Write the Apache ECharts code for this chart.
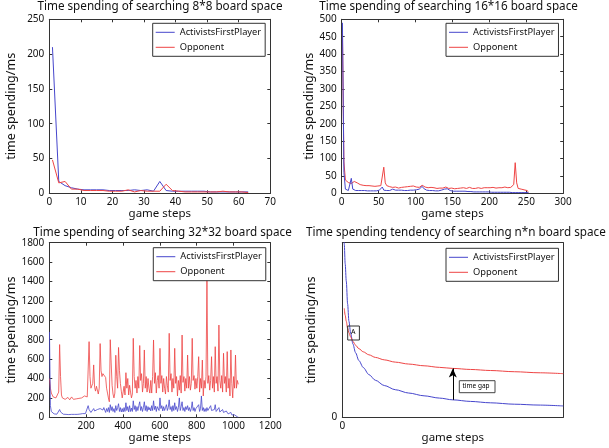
<!DOCTYPE html>
<html><head><meta charset="utf-8">
<script src="https://cdn.jsdelivr.net/npm/echarts@6/dist/echarts.min.js"></script>
<style>html,body{margin:0;padding:0;background:#fff}#c{width:609px;height:448px}</style>
</head><body><div id="c"></div>
<script>
const seriesNames = ['ActivistsFirstPlayer', 'Opponent'];
const titles = [
  'Time spending of searching 8*8 board space',
  'Time spending of searching 16*16 board space',
  'Time spending of searching 32*32 board space',
  'Time spending tendency of searching n*n board space'
];
const xName = 'game steps';
const yName = 'time spending/ms';

// 8*8 board (odd game steps)
const steps8 = [1,3,5,7,9,11,13,15,17,19,21,23,25,27,29,31,33,35,37,39,41,43,45,47,49,51,53,55,57,59,61,63];
const blue8 = [210,17,11,8,6,5,5,5,5,4,4,4,4,5,4,5,3,17,4,3,3,3,3,3,3,2,2,2,2,2,2,2];
const red8  = [48,15,17,6,6,4,4,4,4,3,3,3,5,2,4,3,3,3,13,4,3,2,2,2,2,2,2,3,2,2,2,1];

// 16*16 board (steps 1,3,5,...)
const blue16 = [490,60,12,9,8,9,43,12,8,8, 7,8,7,8,7,8,7,7,8,7, 8,7,8,7,8,9,10,18,9,8,
  8,7,8,9,12,10,9,8,9,8, 9,8,8,7,8,8,9,8,9,10, 10,11,12,13,20,14,11,9,8,8,
  7,8,7,7,8,7,8,9,10,12, 15,13,10,8,7,6,6,6,7,6, 5,6,5,6,5,5,6,5,5,4,
  5,4,5,4,4,4,4,4,3,4, 3,3,3,3,3,3,3,3,3,3, 3,3,2,3,2,2,3,2,2,2, 2,2,2,2,2,2,2];
const red16 = [460,90,38,33,31,30,28,27,34,36, 30,27,25,24,23,22,22,21,22,20,
  21,22,20,19,21,20,22,24,75,30, 22,20,19,18,17,16,18,16,15,19,
  17,16,18,17,19,18,20,17,21,19, 18,20,17,19,23,20,18,17,16,15,
  17,14,16,15,14,16,15,14,15,16, 18,16,14,13,15,14,13,16,14,13,
  15,14,16,15,14,16,17,15,14,15, 14,15,16,15,14,15,16,15,16,15,
  16,15,17,16,15,17,16,17,16,17, 18,17,16,18,17,18,25,88,30,14, 12,12,11,10,9,8,4];

// 32*32 board (every 5th step from 1)
const red32 = [
  400,300,250,230,210,200,220,200,190,210,
  260,750,420,230,200,190,210,185,200,195,
  205,190,180,200,210,195,185,200,205,190,
  200,210,195,205,215,200,210,205,220,215,
  230,210,200,780,420,300,280,350,540,310,
  270,320,300,240,300,760,480,420,450,440,
  430,410,300,250,200,160,800,560,330,240,
  200,250,640,420,300,720,480,350,270,200,
  180,320,230,460,300,400,230,330,260,200,
  240,814,420,300,380,250,420,300,740,380,
  450,260,350,694,300,420,260,400,300,250,
  380,250,420,797,350,460,250,380,430,300,
  711,350,430,260,400,300,240,420,330,260,
  866,380,450,260,400,300,711,350,420,220,
  380,280,430,250,848,360,420,270,400,300,
  642,300,420,280,350,814,380,430,290,400,
  300,420,625,260,400,300,590,220,380,300,
  420,1415,350,430,280,380,625,300,420,260,
  728,350,420,270,951,380,300,430,260,660,
  350,420,260,677,300,400,220,694,350,200,
  420,300,642,300,380,340];
const blue32 = [
  880,120,60,50,40,35,38,35,32,30,
  45,80,55,40,35,32,30,28,30,32,
  30,28,30,32,30,28,32,30,35,33,
  30,32,35,33,30,35,38,35,40,38,
  40,45,120,80,60,50,70,55,90,65,
  55,60,80,70,60,90,110,80,75,100,
  85,50,90,60,100,50,130,70,110,60,
  90,50,120,70,100,140,60,100,55,90,
  55,100,60,150,70,110,55,120,60,95,
  60,170,80,120,60,110,70,120,160,70,
  110,60,100,160,70,120,60,110,75,100,
  65,120,70,170,80,115,60,110,120,70,
  200,90,120,65,110,70,100,130,70,100,
  180,80,110,60,120,70,150,80,110,60,
  100,200,70,110,160,70,100,60,110,80,
  120,70,100,60,90,160,70,100,60,90,
  70,100,130,60,90,220,70,100,60,90,
  60,100,70,90,55,120,70,90,55,80,
  130,60,80,50,100,55,75,45,80,50,
  60,35,65,80,35,55,30,50,25,30,
  20,25,15,10,5,2];

// tendency (relative units)
const tendSteps = [0.6,0.9,1.3,1.8,2.4,3.0,3.8,4.8,6,7.5,9.5,12,15,19,24,30,37,44,50,58,67,78,89,100];
const tendBlue  = [115,99,88,78,65,55,48,42,37,32.5,28.5,24.5,21.2,18.2,15.8,13.9,12.3,11.0,10.0,9.1,8.3,7.5,7.0,6.5];
const tendRed   = [null,62.4,58.5,55,51,48.5,46,43.5,41.3,39.3,37.5,35.8,34.3,32.9,31.6,30.5,29.5,28.6,28.0,27.4,26.8,26.1,25.5,25.0];
const gapStep = 50;

const steps16 = blue16.map((_, i) => 1 + 2 * i);
const steps32 = blue32.map((_, i) => 1 + 5 * i);
const zip = (xs, ys) => xs.map((x, i) => [x, ys[i]]).filter(p => p[1] !== null);

const BLUE = '#4646cc', RED = '#ee4444', INK = '#111', LINE = '#333';
const FONT = 'Noto Sans';

const grids = [
  {left: 49.3, top: 19.3, width: 221, height: 174},
  {left: 341.7, top: 19.3, width: 221.5, height: 174},
  {left: 49.3, top: 242.7, width: 221, height: 174.6},
  {left: 342.3, top: 242.7, width: 221, height: 174.6}
];
const axisSpecs = [
  {x: [0, 70, 10], y: [0, 250, 50], yGap: 31, xGap: 13},
  {x: [0, 300, 50], y: [0, 500, 50], yGap: 26, xGap: 13},
  {x: [0, 1200, 200], y: [0, 1800, 200], yGap: 30, xGap: 13, hideX0: true},
  {x: [0, 100, 100], y: [0, 100, 100], yGap: 24, xGap: 13, bare: true}
];

const xAxes = [], yAxes = [];
axisSpecs.forEach((s, g) => {
  const line = {show: true, onZero: false, lineStyle: {color: LINE, width: 1}};
  const tick = s.bare ? {show: false} : {show: true, inside: true, length: 3, lineStyle: {color: LINE}};
  const plain = v => String(v);
  const xf = s.bare ? (v => v === 0 ? '0' : '') : (s.hideX0 ? (v => v === 0 ? '' : String(v)) : plain);
  const yf = s.bare ? (v => v === 0 ? '0' : '') : plain;
  xAxes.push({gridIndex: g, type: 'value', position: 'bottom', min: s.x[0], max: s.x[1], interval: s.x[2],
    axisLine: line, axisTick: tick, splitLine: {show: false},
    axisLabel: {color: INK, fontSize: 10, margin: 4, fontFamily: FONT, showMinLabel: true, showMaxLabel: true, formatter: xf},
    name: xName, nameLocation: 'middle', nameGap: s.xGap,
    nameTextStyle: {color: INK, fontSize: 11.5, fontFamily: FONT}});
  xAxes.push({gridIndex: g, type: 'value', position: 'top', min: s.x[0], max: s.x[1], interval: s.x[2],
    axisLine: line, axisTick: tick, splitLine: {show: false}, axisLabel: {show: false}});
  yAxes.push({gridIndex: g, type: 'value', position: 'left', min: s.y[0], max: s.y[1], interval: s.y[2],
    axisLine: line, axisTick: tick, splitLine: {show: false},
    axisLabel: {color: INK, fontSize: 10, margin: 5, fontFamily: FONT, showMinLabel: true, showMaxLabel: true, formatter: yf},
    name: yName, nameLocation: 'middle', nameGap: s.yGap,
    nameTextStyle: {color: INK, fontSize: 12.5, fontFamily: FONT}});
  yAxes.push({gridIndex: g, type: 'value', position: 'right', min: s.y[0], max: s.y[1], interval: s.y[2],
    axisLine: line, axisTick: tick, splitLine: {show: false}, axisLabel: {show: false}});
});

function mkSeries(g, name, color, data, extra) {
  return Object.assign({type: 'line', name, xAxisIndex: 2 * g, yAxisIndex: 2 * g, data,
    showSymbol: false, symbol: 'none', color, lineStyle: {color, width: 1}, animation: false,
    emphasis: {disabled: true}, silent: true}, extra || {});
}

const series = [
  mkSeries(0, seriesNames[0], BLUE, zip(steps8, blue8)),
  mkSeries(0, seriesNames[1], RED, zip(steps8, red8)),
  mkSeries(1, seriesNames[1], RED, zip(steps16, red16)),
  mkSeries(1, seriesNames[0], BLUE, zip(steps16, blue16)),
  mkSeries(2, seriesNames[1], RED, zip(steps32, red32), {lineStyle: {color: RED, width: 0.8}}),
  mkSeries(2, seriesNames[0], BLUE, zip(steps32, blue32), {lineStyle: {color: BLUE, width: 0.8}}),
  mkSeries(3, seriesNames[0], BLUE, zip(tendSteps, tendBlue), {smooth: 0.3, smoothMonotone: 'x'}),
  mkSeries(3, seriesNames[1], RED, zip(tendSteps, tendRed), {smooth: 0.3, smoothMonotone: 'x',
    markLine: {silent: true, animation: false, symbol: ['none', 'arrow'], symbolSize: [6, 9],
      label: {show: false}, lineStyle: {color: '#000', width: 1, type: 'solid'},
      emphasis: {disabled: true},
      data: [[{coord: [gapStep, tendBlue[tendSteps.indexOf(gapStep)]]}, {coord: [gapStep, tendRed[tendSteps.indexOf(gapStep)]]}]]}})
];

const legendPos = [
  {left: 152.7, top: 23.3}, {left: 446, top: 23.3}, {left: 153.3, top: 247.7}, {left: 446, top: 248.3}
];
const legends = legendPos.map(p => ({
  left: p.left, top: p.top, orient: 'vertical', data: seriesNames, icon: 'rect',
  itemWidth: 19, itemHeight: 1, itemGap: 3, padding: [3, 4, 3, 3],
  borderColor: LINE, borderWidth: 1, backgroundColor: '#fff', selectedMode: false,
  textStyle: {fontSize: 9.3, color: INK, fontFamily: FONT, lineHeight: 12}
}));

const titlePos = [{x: 160, y: 0.5}, {x: 448.6, y: 0.5}, {x: 162.5, y: 227}, {x: 455.8, y: 227}];
const titleArr = titles.map((t, i) => ({
  text: t, left: titlePos[i].x, top: titlePos[i].y, textAlign: 'center', padding: 0,
  textStyle: {fontSize: 11.7, fontWeight: 'normal', color: INK, fontFamily: FONT}
}));

const chart = echarts.init(document.getElementById('c'), null, {renderer: 'canvas'});
chart.setOption({
  animation: false,
  backgroundColor: '#fff',
  title: titleArr,
  legend: legends,
  grid: grids.map(g => Object.assign({outerBoundsMode: 'none', containLabel: false}, g)),
  xAxis: xAxes,
  yAxis: yAxes,
  series,
  graphic: [
    {type: 'rect', shape: {x: 347.7, y: 326, width: 11.7, height: 14}, style: {fill: 'none', stroke: '#333', lineWidth: 1}, silent: true, z: 100},
    {type: 'text', style: {x: 351, y: 328, text: 'A', fontSize: 7, fill: '#000', fontFamily: FONT}, silent: true, z: 100},
    {type: 'rect', shape: {x: 459.3, y: 380.7, width: 35.7, height: 12}, style: {fill: '#fff', stroke: '#444', lineWidth: 1}, silent: true, z: 100},
    {type: 'text', style: {x: 462.5, y: 383, text: 'time gap', fontSize: 6.5, fill: '#000', fontFamily: FONT}, silent: true, z: 101}
  ]
});
</script>
</body></html>
